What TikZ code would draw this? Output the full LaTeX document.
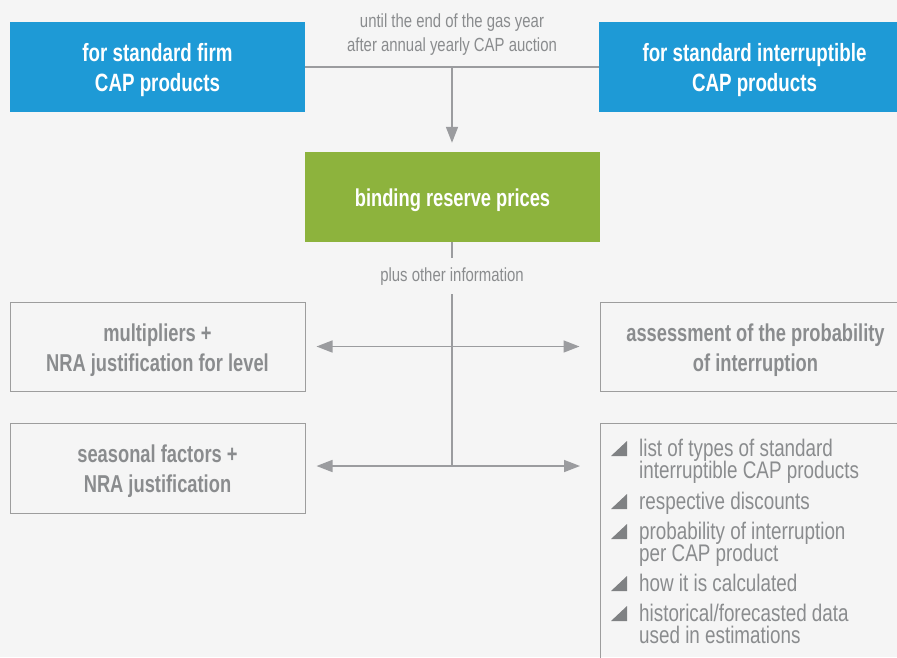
\documentclass[tikz,border=0pt]{standalone}
\usepackage{fontspec}
\setmainfont{Liberation Sans}[FakeStretch=0.785]
\newfontfamily\hdfont{Liberation Sans}[FakeStretch=0.75]
\usetikzlibrary{arrows.meta,calc}
\definecolor{bg}{HTML}{F5F5F5}
\definecolor{cblue}{HTML}{1E9AD6}
\definecolor{cgreen}{HTML}{8DB33D}
\definecolor{ctext}{HTML}{8A8C8E}
\definecolor{cbullet}{HTML}{7F8183}
\definecolor{cline}{HTML}{9B9C9F}
\definecolor{cbox}{HTML}{9D9D9D}
\newcommand{\dnstack}[1]{\raisebox{-3.5pt}[\height][\depth]{\begin{tabular}{@{}c@{}}#1\end{tabular}}}
\begin{document}
\begin{tikzpicture}[x=1pt,y=-1pt,
  filled/.style={draw=none, text=white, align=center, minimum height=90pt, inner sep=0pt},
  bluebox/.style={filled, fill=cblue, font=\hdfont\bfseries\fontsize{25}{30}\selectfont},
  greenbox/.style={filled, fill=cgreen, font=\hdfont\bfseries\fontsize{24.4}{30}\selectfont},
  graybox/.style={draw=cbox, line width=1pt, text=ctext, font=\hdfont\bfseries\fontsize{24.4}{30}\selectfont, align=center, minimum height=89pt, inner sep=0pt},
  lbl/.style={text=ctext, font=\fontsize{19}{24}\selectfont, align=center, inner sep=0pt},
  itemtxt/.style={text=ctext, font=\fontsize{24}{22.5}\selectfont, anchor=base west, inner sep=0pt},
  bullet/.style={fill=cbullet, draw=none},
  conn/.style={draw=cline, line width=1.6pt},
  arr/.style={conn, -{Triangle[length=16pt,width=12pt]}},
]
\fill[bg] (0,0) rectangle (897,657);
\useasboundingbox (0,0) rectangle (897,657);

% top boxes
\node[bluebox, minimum width=295pt] (firm) at (157.5,67) {\dnstack{for standard firm\\CAP products}};
\node[bluebox, minimum width=311pt] (interr) at (754.5,67) {\dnstack{for standard interruptible\\CAP products}};
\node[lbl] (until) at (452,34.5) {until the end of the gas year\\after annual yearly CAP auction};

% green box
\node[greenbox, minimum width=295pt] (bind) at (452.5,197) {\dnstack{binding reserve prices}};
\node[lbl] (plus) at (452,277) {plus other information};

% gray boxes
\node[graybox, minimum width=295pt] (mult) at (157.5,346.5) {\dnstack{multipliers +\\NRA justification for level}};
\node[graybox, minimum width=311pt] (assess) at (755.5,346.5) {\dnstack{assessment of the probability\\of interruption}};
\node[graybox, minimum width=295pt, minimum height=90pt] (seas) at (157.5,468) {\dnstack{seasonal factors +\\NRA justification}};

% open list box
\draw[draw=cbox, line width=1pt] (910,423) -- (600,423) -- (600,670);
\coordinate (lbox) at (600,466);

% list items
\foreach \y in {456,509,539,591,621}{
  \fill[bullet] (611,\y) -- (627,\y) -- (627,\y-15) -- cycle;
}
\node[itemtxt] (i1a) at (639,456) {list of types of standard};
\node[itemtxt] (i1b) at (639,478.5) {interruptible CAP products};
\node[itemtxt] (i2a) at (639,509) {respective discounts};
\node[itemtxt] (i3a) at (639,539) {probability of interruption};
\node[itemtxt] (i3b) at (639,561.5) {per CAP product};
\node[itemtxt] (i4a) at (639,591) {how it is calculated};
\node[itemtxt] (i5a) at (639,621) {historical/forecasted data};
\node[itemtxt] (i5b) at (639,643.5) {used in estimations};

% connectors
\coordinate (j1) at (452,67);
\draw[conn] (firm.east) -- (interr.west);
\draw[arr, shorten >=9pt] (j1) -- (j1 |- bind.north);
\coordinate (p1) at (452,258);
\draw[conn] (bind.south -| p1) -- (p1);
\coordinate (p2) at (452,294);
\coordinate (p3) at (452,466);
\draw[conn] (p2) -- (p3);
\coordinate (h1) at (452,346.5);
\draw[arr, shorten >=11pt] (h1) -- (h1 -| mult.east);
\draw[arr, shorten >=20pt] (h1) -- (h1 -| assess.west);
\draw[arr, shorten >=11pt] (p3) -- (p3 -| seas.east);
\draw[arr, shorten >=20pt] (p3) -- (lbox);
\end{tikzpicture}
\end{document}
